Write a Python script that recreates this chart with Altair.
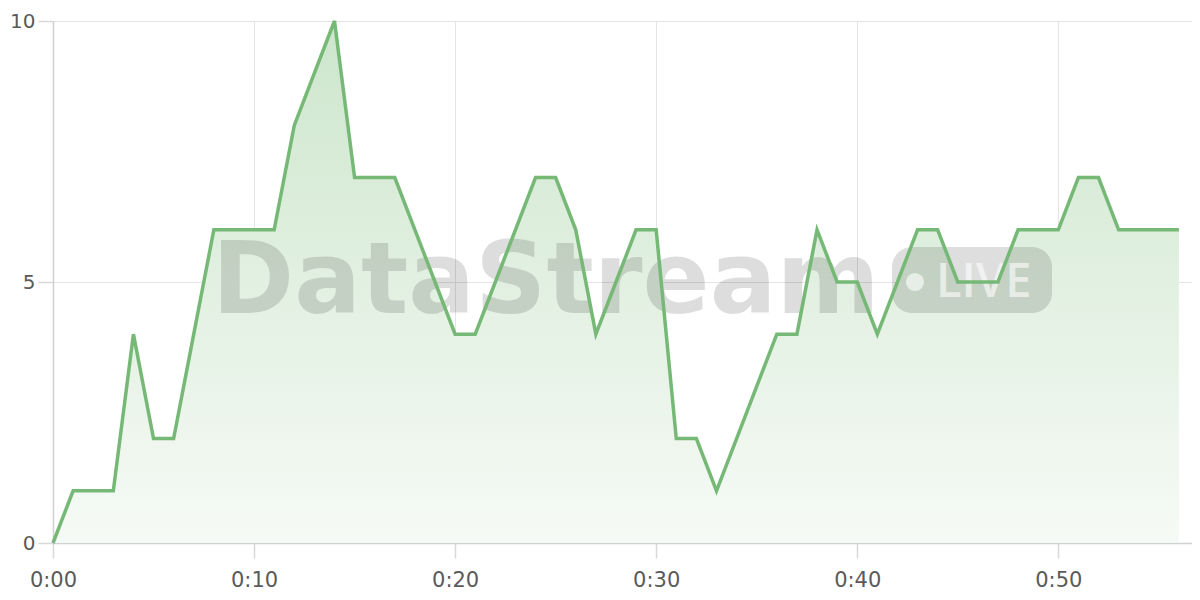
import altair as alt
import pandas as pd

minutes = [0, 1, 2, 3, 4, 5, 6, 7, 8, 9, 10, 11, 12, 13, 14, 15, 16, 17, 18, 19,
           20, 21, 22, 23, 24, 25, 26, 27, 28, 29, 30, 31, 32, 33, 34, 35, 36, 37, 38, 39,
           40, 41, 42, 43, 44, 45, 46, 47, 48, 49, 50, 51, 52, 53, 54, 55, 56]
values = [0, 1, 1, 1, 4, 2, 2, 4, 6, 6, 6, 6, 8, 9, 10, 7, 7, 7, 6, 5,
          4, 4, 5, 6, 7, 7, 6, 4, 5, 6, 6, 2, 2, 1, 2, 3, 4, 4, 6, 5,
          5, 4, 5, 6, 6, 5, 5, 5, 6, 6, 6, 7, 7, 6, 6, 6, 6]
x_ticks = [0, 10, 20, 30, 40, 50]
x_tick_labels = ["0:00", "0:10", "0:20", "0:30", "0:40", "0:50"]
y_ticks = [0, 5, 10]
watermark_text = ["DataStream"]
badge_text = ["LIVE"]

df = pd.DataFrame({"minute": minutes, "value": values})

label_expr = "[" + ",".join("'%s'" % s for s in x_tick_labels) + "][indexof(" + \
    "[" + ",".join(str(v) for v in x_ticks) + "], datum.value)]"

TOP = 13
W, H = 1139, 522
GRID = "#e4e4e4"
TICK = "#d8d8d8"
LABEL = "#5a5a5a"

xscale = alt.Scale(domain=[0, 56.65], nice=False, zero=False)
yscale = alt.Scale(domain=[0, 10], nice=False)

xaxis = alt.Axis(values=x_ticks, labelExpr=label_expr, title=None, grid=True,
                 gridColor=GRID, ticks=True, tickColor=TICK, tickWidth=1.5, tickSize=15,
                 domainColor="#d0d0d0", domainWidth=1.5,
                 labelFontSize=21, labelColor=LABEL, labelFont="DejaVu Sans", labelPadding=11,
                 labelFlush=False)
yaxis = alt.Axis(values=y_ticks, title=None, grid=True, gridColor=GRID, ticks=True,
                 tickColor=TICK, tickWidth=1.5, tickSize=15,
                 domainColor="#d0d0d0", domainWidth=1.5, labelFontSize=20, labelColor=LABEL,
                 labelFont="DejaVu Sans", labelPadding=3, labelFlush=False)

base = alt.Chart(df)

area = base.mark_area(
    color=alt.LinearGradient(
        gradient="linear", x1=1, x2=1, y1=0, y2=1,
        stops=[alt.GradientStop(offset=0, color="#cde6cc"),
               alt.GradientStop(offset=1, color="#f6faf6")]),
).encode(
    x=alt.X("minute:Q", scale=xscale, axis=xaxis),
    y=alt.Y("value:Q", scale=yscale, axis=yaxis),
)

oy = 8 + TOP  # page y of plot top

wm = alt.Chart(pd.DataFrame({"t": watermark_text})).mark_text(
    font="DejaVu Sans", fontWeight="bold", fontSize=99, color="#000000",
    opacity=0.13, align="left", baseline="alphabetic",
).encode(text="t:N", x=alt.value(212 - 53), y=alt.value(313 - oy))

pill = alt.Chart(pd.DataFrame({"t": badge_text})).mark_rect(
    color="#000000", opacity=0.13, cornerRadius=20,
).encode(x=alt.value(892 - 53), x2=alt.value(1052 - 53),
         y=alt.value(247 - oy), y2=alt.value(313 - oy))

dot = alt.Chart(pd.DataFrame({"t": badge_text})).mark_point(
    filled=True, shape="circle", size=330, color="#ffffff", opacity=0.6,
).encode(x=alt.value(915 - 53), y=alt.value(282 - oy))

live = alt.Chart(pd.DataFrame({"t": badge_text})).mark_text(
    font="Open Sans", fontWeight=600, fontSize=47, color="#ffffff", opacity=0.6,
    align="left", baseline="alphabetic",
).encode(text="t:N", x=alt.value(936 - 53), y=alt.value(297 - oy))

line = base.mark_line(color="#76b876", strokeWidth=3.5, strokeJoin="miter").encode(
    x=alt.X("minute:Q", scale=xscale),
    y=alt.Y("value:Q", scale=yscale),
)

chart = alt.layer(area, wm, pill, dot, live, line).properties(
    width=W, height=H,
    autosize=alt.AutoSizeParams(type="none"),
    padding={"left": 45, "top": TOP, "right": 0, "bottom": 49},
).configure_view(stroke=None).configure(background="white")

chart.save("out.html", embed_options={"renderer": "svg", "actions": False})
